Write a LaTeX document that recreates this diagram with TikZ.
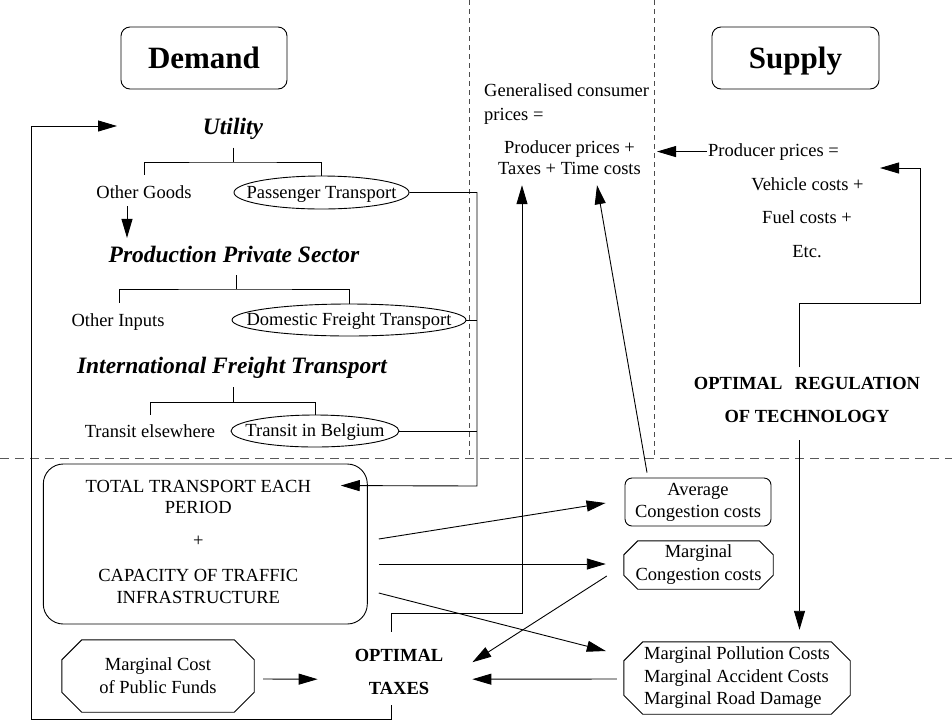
\documentclass[tikz,border=0pt]{standalone}
\usepackage{fontspec}
\setmainfont{Liberation Serif}
\usetikzlibrary{arrows.meta,calc,shapes.geometric}
\newcommand\drawocto[2]{%
  \draw[ln] ([xshift=#2]#1.north west) -- ([xshift=-#2]#1.north east) -- ([yshift=-#2]#1.north east)
    -- ([yshift=#2]#1.south east) -- ([xshift=-#2]#1.south east) -- ([xshift=#2]#1.south west)
    -- ([yshift=#2]#1.south west) -- ([yshift=-#2]#1.north west) -- cycle;}
\newcommand\ovaltext[1]{\makebox[0pt]{\raisebox{-5.8pt}[0pt][0pt]{#1}}}
\begin{document}
\begin{tikzpicture}[x=1pt,y=-1pt,
  txt/.style={inner sep=0pt, font=\fontsize{18.5}{22}\selectfont},
  hd/.style={inner sep=0pt, font=\fontsize{23.5}{28}\selectfont\bfseries\itshape},
  big/.style={draw, line width=0.9pt, rounded corners=9pt, minimum width=166pt, minimum height=62pt, inner sep=0pt, text depth=0pt, font=\fontsize{31}{36}\selectfont\bfseries},
  oval/.style={draw, line width=0.9pt, ellipse, inner sep=0pt, font=\fontsize{18.5}{22}\selectfont},
  bld/.style={inner sep=0pt, align=center, font=\fontsize{18.5}{22}\selectfont\bfseries},
  ln/.style={line width=0.9pt},
  arr/.style={line width=0.9pt, -{Triangle[length=19pt,width=11pt]}},
  vdsh/.style={line width=0.8pt, black!70, dash pattern=on 5pt off 4pt},
  hdsh/.style={line width=0.8pt, black!65, dash pattern=on 9pt off 6pt},
]
\useasboundingbox (0,0) rectangle (952,721);

% dashed separators
\draw[vdsh] (469,0) -- (469,458);
\draw[vdsh] (654,0) -- (654,458);
\draw[hdsh] (0,458) -- (952,458);

% headers
\node[big] (demand) at (204,58) {Demand};
\node[big, minimum width=167pt] (supply) at (795.5,58) {Supply};

% demand side
\node[hd, anchor=base] (util) at (233,134) {Utility};
\node[txt, anchor=base] (og) at (144,198) {Other Goods};
\node[oval, minimum width=175pt, minimum height=33pt] (pt) at (321.5,192.5) {\ovaltext{Passenger Transport}};
\node[hd, anchor=base] (pps) at (234,262) {Production Private Sector};
\node[txt, anchor=base] (oi) at (118,326) {Other Inputs};
\node[oval, minimum width=234pt, minimum height=32pt] (dft) at (349,320) {\ovaltext{Domestic Freight Transport}};
\node[hd, anchor=base] (ift) at (232,373) {International Freight Transport};
\node[txt, anchor=base] (te) at (150,437) {Transit elsewhere};
\node[oval, minimum width=168pt, minimum height=32pt] (tib) at (315,431) {\ovaltext{Transit in Belgium}};

% prices
\node[txt, anchor=west, align=left] (gcp) at (484,104) {Generalised consumer\\[2pt]prices =};
\node[txt, align=center] (ppt) at (569.5,158) {Producer prices +\\[-1pt]Taxes + Time costs};
\node[txt, anchor=base west] (pp) at (708,156) {Producer prices =};
\node[txt, anchor=base] (vc) at (807.5,190) {Vehicle costs +};
\node[txt, anchor=base] (fc) at (807,223) {Fuel costs +};
\node[txt, anchor=base] (etc) at (807,257) {Etc.};
\node[bld] (ort) at (807,400.3) {OPTIMAL\hspace{8pt} REGULATION\\[11pt]OF TECHNOLOGY};

% lower part
\node[draw, ln, rounded corners=20pt, minimum width=324pt, minimum height=160pt] (total) at (205.3,544) {};
\node[txt, align=center] (tottxt) at (198.3,542.4) {TOTAL TRANSPORT EACH\\[-1pt]PERIOD\\[11pt]+\\[13pt]CAPACITY OF TRAFFIC\\INFRASTRUCTURE};
\node[txt, draw, ln, rounded corners=7pt, align=center, minimum width=146pt, minimum height=48pt] (acc) at (698,502) {Average\\Congestion costs};
\node[txt, align=center, minimum width=149pt, minimum height=48pt] (mcc) at (698.5,565) {Marginal\\[1pt]Congestion costs};
\node[txt, align=left, minimum width=226pt, minimum height=72pt] (mpc) at (737,678) {Marginal Pollution Costs\\[0.5pt]Marginal Accident Costs\\[0.5pt]Marginal Road Damage};
\node[txt, align=center, minimum width=192pt, minimum height=72pt] (mcpf) at (158,676) {Marginal Cost\\[1pt]of Public Funds};
\node[bld] (opt) at (399,672.2) {OPTIMAL\\[11pt]TAXES};
\drawocto{mcc}{14pt}
\drawocto{mpc}{19pt}
\drawocto{mcpf}{20pt}

% trees
\coordinate (ub) at (233,162);
\draw[ln] ($(util.south)+(0,8.3)$) -- (ub);
\draw[ln] ($(og.north)+(0,-10.4)$) |- (ub) -| (pt.north);
\coordinate (pb) at (236,289);
\draw[ln] ($(pps.south)+(2,13)$) -- (pb);
\draw[ln] ($(oi.north)+(1,-10.4)$) |- (pb) -| (dft.north);
\coordinate (ib) at (233,402);
\draw[ln] ($(ift.south)+(1,9)$) -- (ib);
\draw[ln] ($(te.north)+(0,-9.4)$) |- (ib) -| (tib.north);

% other goods -> production
\draw[arr] ($(og.south)+(-17,8)$) -- ($(pps.north)+(-107,-7.6)$);

% transport bus
\coordinate (bus) at (477,486);
\draw[arr] (pt.east) -| (bus) -- ($(total.north east)+(-27,22)$);
\draw[ln] (dft.east) -- (dft.east -| bus);
\draw[ln] (tib.east) -- (tib.east -| bus);

% feedback loop
\coordinate (lb) at (31,719);
\coordinate (looptip) at (117,126);
\draw[arr] ($(opt.south)+(-7.5,10)$) |- (lb) |- (looptip);

% taxes to consumer prices
\coordinate (tb) at (522,613);
\draw[arr] ($(opt.north)+(-7.5,-17.5)$) |- (tb) -- ($(ppt.south)+(-47.5,10)$);
\draw[arr] ($(acc.north)+(-51,-5)$) -- ($(ppt.south)+(27.5,10)$);

% producer prices
\draw[arr] ($(pp.west)+(-1,0)$) -- ($(pp.west)+(-51,0)$);
\coordinate (rb) at (920,303);
\coordinate (rtip) at (880,168);
\draw[arr] ($(ort.north)+(-7.5,-10)$) |- (rb) |- (rtip);
\draw[arr] ($(ort.south)+(-7.5,17)$) -- ($(mpc.north)+(62.5,-12)$);

% total -> costs
\draw[arr] ($(total.east)+(11,-5)$) -- ($(acc.west)+(-19,1)$);
\draw[arr] ($(total.east)+(11,20)$) -- ($(mcc.west)+(-18,-1)$);
\draw[arr] ($(total.east)+(11,49)$) -- ($(mpc.west)+(-18,-27)$);

% costs -> optimal taxes
\draw[arr] ($(mcc.west)+(-17,11)$) -- ($(opt.east)+(29,-10)$);
\draw[arr] ($(mpc.west)+(-7,1)$) -- ($(opt.east)+(29,7)$);
\draw[arr] ($(mcpf.east)+(9,3)$) -- ($(opt.west)+(-37,7)$);
\end{tikzpicture}
\end{document}
